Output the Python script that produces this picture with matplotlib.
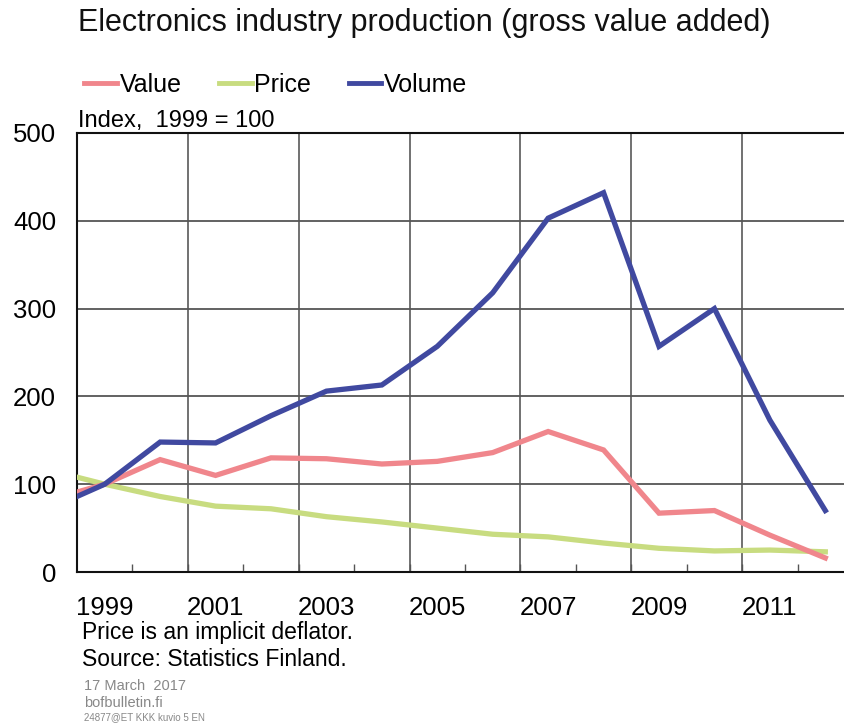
import matplotlib.pyplot as plt
from matplotlib.lines import Line2D

plt.rcParams['font.family'] = ['Liberation Sans', 'DejaVu Sans']

# annual data, index 1999 = 100 (1998 only shows as the clipped start of the lines)
years = [1998, 1999, 2000, 2001, 2002, 2003, 2004, 2005, 2006, 2007, 2008, 2009, 2010, 2011, 2012]
value = [82, 100, 128, 110, 130, 129, 123, 126, 136, 160, 139, 67, 70, 42, 16]
price = [116, 100, 86, 75, 72, 63, 57, 50, 43, 40, 33, 27, 24, 25, 23]
volume = [72, 100, 148, 147, 178, 206, 213, 257, 318, 403, 432, 257, 300, 173, 70]

label_years = [1999, 2001, 2003, 2005, 2007, 2009, 2011]
grid_years = [2001, 2003, 2005, 2007, 2009, 2011]
y_ticks = [0, 100, 200, 300, 400, 500]

c_value = '#F0868C'
c_price = '#C8DC80'
c_volume = '#4049A0'

W, H = 844, 724
fig = plt.figure(figsize=(W / 100, H / 100), dpi=100)
ax = fig.add_axes([77 / W, (H - 572) / H, 776 / W, 439 / H])

# points sit in the middle of each year
x = [y + 0.5 for y in years]
ax.plot(x, price, color=c_price, lw=3.8, solid_joinstyle='miter', zorder=3)
ax.plot(x, value, color=c_value, lw=3.8, solid_joinstyle='miter', zorder=4)
ax.plot(x, volume, color=c_volume, lw=3.8, solid_joinstyle='miter', zorder=5)

ax.set_xlim(1999, 2013)
ax.set_ylim(0, 500)

for g in grid_years:
    ax.axvline(g, color='#666666', lw=1.3, zorder=1)
for t in y_ticks[1:-1]:
    ax.axhline(t, color='#555555', lw=1.3, zorder=1)

ax.set_yticks(y_ticks)
ax.tick_params(axis='y', length=0, pad=15, labelsize=18.5)
ax.set_xticks([y + 0.5 for y in label_years], [str(y) for y in label_years])
ax.tick_params(axis='x', which='major', length=0, pad=17, labelsize=18.5)
ax.set_xticks(list(range(2000, 2013)), minor=True)
ax.tick_params(axis='x', which='minor', direction='in', length=6, width=1, color='#555555')

for s in ['left', 'bottom', 'top']:
    ax.spines[s].set_linewidth(1.5)
    ax.spines[s].set_color('#111111')
ax.spines['right'].set_visible(False)

fig.text(78 / W, 1 - 23 / H, 'Electronics industry production (gross value added)',
         fontsize=22, va='center', ha='left', color='#111111')

handles = [Line2D([], [], color=c_value, lw=3.5),
           Line2D([], [], color=c_price, lw=3.5),
           Line2D([], [], color=c_volume, lw=3.5)]
fig.legend(handles, ['Value', 'Price', 'Volume'], loc='center left',
           bbox_to_anchor=(84 / W, 1 - 85 / H), ncol=3, frameon=False,
           fontsize=18, handlelength=1.3, handletextpad=0.12,
           columnspacing=1.5, borderpad=0, borderaxespad=0)

fig.text(78 / W, 1 - 121 / H, 'Index,  1999 = 100', fontsize=17, va='center', ha='left')

fig.text(82 / W, 1 - 633 / H, 'Price is an implicit deflator.', fontsize=16.5, va='center')
fig.text(82 / W, 1 - 660 / H, 'Source: Statistics Finland.', fontsize=16.5, va='center')
fig.text(84 / W, 1 - 686 / H, '17 March  2017', fontsize=10.5, color='#888888', va='center')
fig.text(84 / W, 1 - 703 / H, 'bofbulletin.fi', fontsize=10.5, color='#888888', va='center')
fig.text(84 / W, 1 - 717 / H, '24877@ET KKK kuvio 5 EN', fontsize=7, color='#888888', va='center')

fig.savefig('out.png', dpi=100)
